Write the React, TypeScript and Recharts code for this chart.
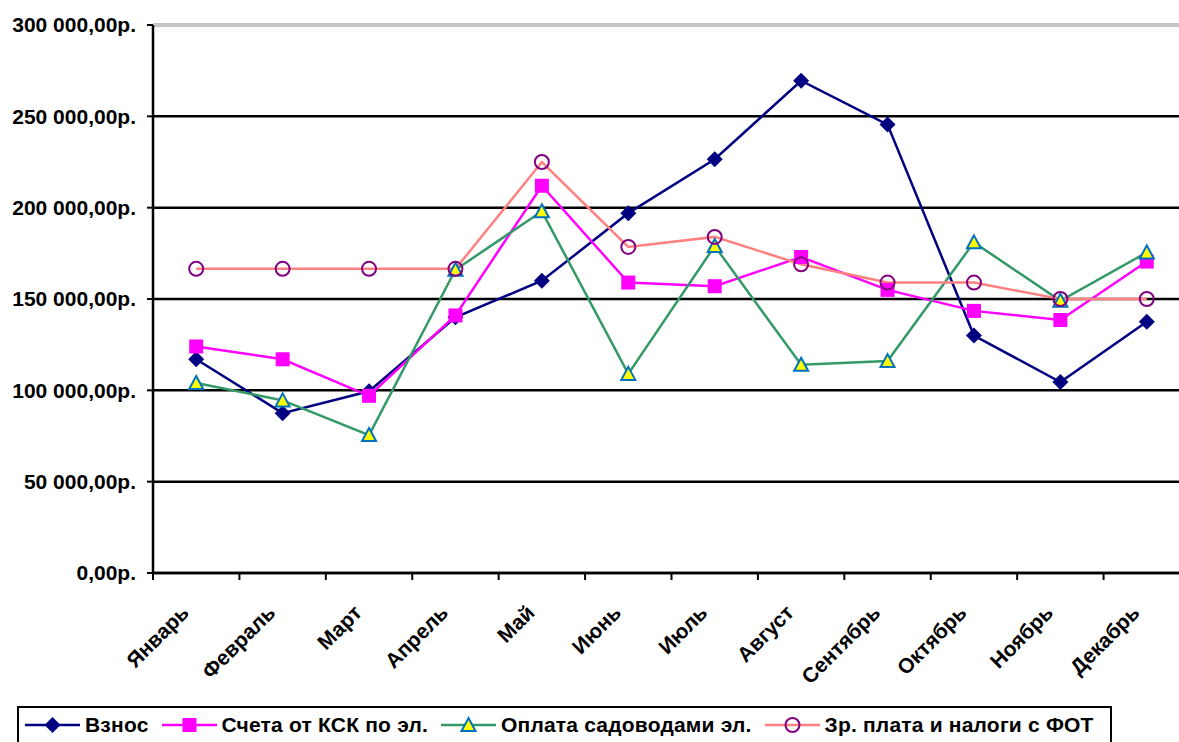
import React from 'react';
import { LineChart, Line, XAxis, YAxis, CartesianGrid, Legend, ReferenceLine } from 'recharts';

const months = ['Январь', 'Февраль', 'Март', 'Апрель', 'Май', 'Июнь', 'Июль', 'Август', 'Сентябрь', 'Октябрь', 'Ноябрь', 'Декабрь'];
const vznos = [117000, 87500, 99500, 140000, 160000, 197000, 226500, 269500, 245500, 130000, 104500, 137500];
const scheta = [124000, 117000, 97000, 141000, 212000, 159000, 157000, 173000, 155000, 143500, 138500, 170500];
const oplata = [104000, 94500, 75500, 166000, 198000, 109000, 179000, 114000, 116000, 181000, 149000, 175500];
const zarplata = [166500, 166500, 166500, 166500, 225000, 178500, 184000, 169000, 159000, 159000, 150000, 150000];
const yTicks = [0, 50000, 100000, 150000, 200000, 250000, 300000];

const FONT = '"Liberation Sans", Arial, sans-serif';

const chartData = months.map((m, i) => ({
  x: i + 0.5,
  month: m,
  vznos: vznos[i],
  scheta: scheta[i],
  oplata: oplata[i],
  zarplata: zarplata[i],
}));

const boundaryTicks = months.map((_, i) => i).concat(months.length);
const centerTicks = months.map((_, i) => i + 0.5);

const formatRub = (v: number) =>
  String(Math.round(v)).replace(/\B(?=(\d{3})+(?!\d))/g, ' ') + ',00р.';

const Diamond = ({ cx, cy }: any) =>
  cx == null ? null : <path d={`M${cx},${cy - 8}L${cx + 8},${cy}L${cx},${cy + 8}L${cx - 8},${cy}Z`} fill="#000080" />;
const Square = ({ cx, cy }: any) =>
  cx == null ? null : <rect x={cx - 7} y={cy - 7} width={14} height={14} fill="#FF00FF" />;
const Triangle = ({ cx, cy }: any) =>
  cx == null ? null : (
    <path d={`M${cx},${cy - 7}L${cx + 7},${cy + 6}L${cx - 7},${cy + 6}Z`} fill="#FFFF00" stroke="#0070C0" strokeWidth={2} />
  );
const Ring = ({ cx, cy }: any) =>
  cx == null ? null : <circle cx={cx} cy={cy} r={7} fill="none" stroke="#800080" strokeWidth={2} />;

const MonthTick = ({ x, y, payload }: any) => (
  <g transform={`translate(${x - 6},${y + 40})`}>
    <text textAnchor="end" transform="rotate(-45)" fontFamily={FONT} fontWeight="bold" fontSize={21} fill="#000">
      {months[Math.floor(payload.value)]}
    </text>
  </g>
);

const NoLabel = () => <g />;

const legendItems = [
  { name: 'Взнос', color: '#000080', dot: Diamond },
  { name: 'Счета от КСК по эл.', color: '#FF00FF', dot: Square },
  { name: 'Оплата садоводами эл.', color: '#339966', dot: Triangle },
  { name: 'Зр. плата и налоги с ФОТ', color: '#FF8080', dot: Ring },
];

const LegendBox = () => (
  <div
    style={{
      border: '2px solid #000',
      height: 60,
      boxSizing: 'border-box',
      display: 'flex',
      alignItems: 'flex-start',
      paddingTop: 7,
      paddingLeft: 6,
      fontFamily: FONT,
      fontWeight: 'bold',
      fontSize: 21,
      letterSpacing: 0.2,
      background: '#fff',
    }}
  >
    {legendItems.map((it) => (
      <div key={it.name} style={{ display: 'flex', alignItems: 'center', marginRight: 13, height: 20 }}>
        <svg width={55} height={20} style={{ marginRight: 5 }}>
          <line x1={0} y1={10} x2={55} y2={10} stroke={it.color} strokeWidth={2.5} />
          <it.dot cx={27.5} cy={10} />
        </svg>
        <span style={{ lineHeight: '20px', whiteSpace: 'nowrap' }}>{it.name}</span>
      </div>
    ))}
  </div>
);

export default function App() {
  return (
    <div style={{ position: 'fixed', left: 0, top: 0, width: 1179, height: 742, overflow: 'hidden', background: '#fff' }}>
      <LineChart width={1200} height={742} data={chartData} margin={{ top: 25, right: 10, bottom: 69, left: 0 }}>
        <CartesianGrid
          xAxisId="a"
          vertical={false}
          stroke="#000"
          strokeWidth={2.5}
          horizontal={{ stroke: '#000', strokeWidth: 2.5 }}
        />
        <XAxis
          xAxisId="a"
          type="number"
          dataKey="x"
          domain={[0, 12]}
          ticks={boundaryTicks}
          interval={0}
          tick={<NoLabel />}
          height={1}
          axisLine={{ stroke: '#000', strokeWidth: 2.5 }}
          tickLine={{ stroke: '#000', strokeWidth: 2 }}
          tickSize={7}
        />
        <XAxis
          xAxisId="b"
          type="number"
          dataKey="x"
          domain={[0, 12]}
          ticks={centerTicks}
          interval={0}
          height={99}
          axisLine={false}
          tickLine={false}
          tickSize={0}
          tickMargin={0}
          tick={<MonthTick />}
        />
        <YAxis
          domain={[0, 300000]}
          ticks={yTicks}
          width={153}
          interval={0}
          tickFormatter={formatRub}
          axisLine={{ stroke: '#000', strokeWidth: 2.5 }}
          tickLine={{ stroke: '#000', strokeWidth: 2 }}
          tickSize={6}
          tickMargin={11}
          tick={{ fill: '#000', fontFamily: FONT, fontWeight: 'bold', fontSize: 21 }}
        />
        <ReferenceLine xAxisId="a" y={300000} stroke="#C8C8C8" strokeWidth={3} />
        <Legend
          verticalAlign="middle"
          layout="horizontal"
          content={() => <LegendBox />}
          wrapperStyle={{ left: 17, top: 706, width: 1095, height: 60 }}
        />
        <Line xAxisId="a" dataKey="vznos" name="Взнос" stroke="#000080" strokeWidth={2.5} dot={<Diamond />} isAnimationActive={false} />
        <Line xAxisId="a" dataKey="scheta" name="Счета от КСК по эл." stroke="#FF00FF" strokeWidth={2.5} dot={<Square />} isAnimationActive={false} />
        <Line xAxisId="a" dataKey="oplata" name="Оплата садоводами эл." stroke="#339966" strokeWidth={2.5} dot={<Triangle />} isAnimationActive={false} />
        <Line xAxisId="a" dataKey="zarplata" name="Зр. плата и налоги с ФОТ" stroke="#FF8080" strokeWidth={2.5} dot={<Ring />} isAnimationActive={false} />
      </LineChart>
    </div>
  );
}
